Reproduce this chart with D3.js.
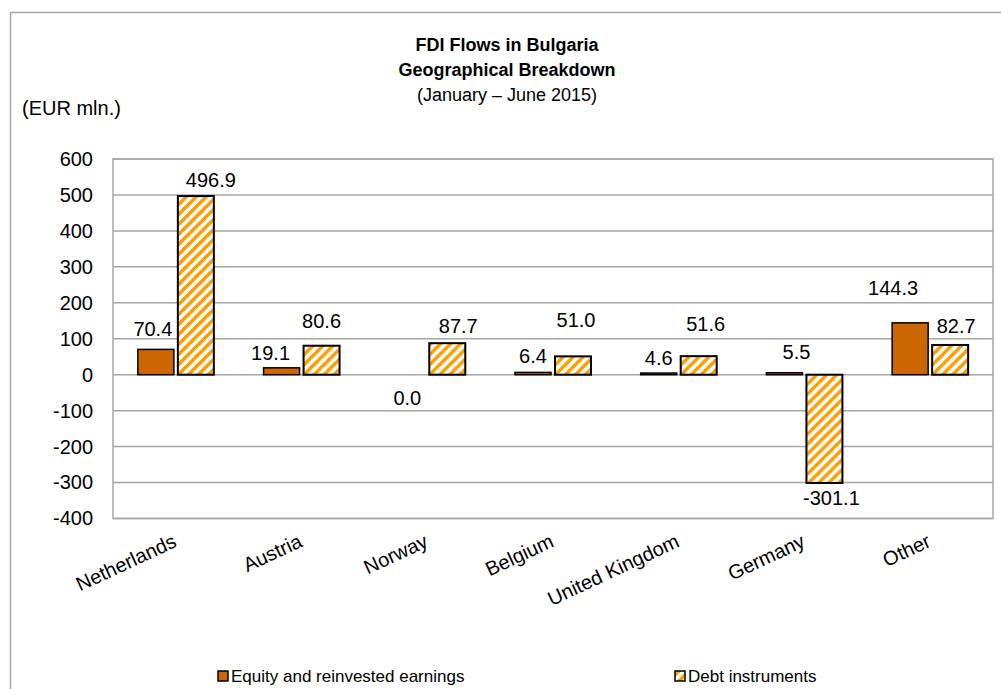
<!DOCTYPE html>
<html>
<head>
<meta charset="utf-8">
<script src="https://cdn.jsdelivr.net/npm/d3@7"></script>
<style>
  body { margin: 0; background: #fff; }
  text { font-family: Arial, "Liberation Sans", sans-serif; fill: #000; }
</style>
</head>
<body>
<div id="chart"></div>
<script>
'use strict';

// data
const categories = ["Netherlands", "Austria", "Norway", "Belgium", "United Kingdom", "Germany", "Other"];
const equity = [70.4, 19.1, 0.0, 6.4, 4.6, 5.5, 144.3];
const debt = [496.9, 80.6, 87.7, 51.0, 51.6, -301.1, 82.7];
const yTicks = [-400, -300, -200, -100, 0, 100, 200, 300, 400, 500, 600];
const seriesNames = ["Equity and reinvested earnings", "Debt instruments"];

let width = 1001, height = 689;
let margin = {top: 159, right: 8, bottom: 170.5, left: 113};

let svg = d3.select('#chart').append('svg')
    .attr('width', width)
    .attr('height', height);

// hatch for debt bars
let defs = svg.append('defs');
let pat = defs.append('pattern')
    .attr('id', 'hatch')
    .attr('patternUnits', 'userSpaceOnUse')
    .attr('width', 10)
    .attr('height', 10);
pat.append('rect').attr('width', 10).attr('height', 10).attr('fill', '#fff');
pat.append('path')
    .attr('d', 'M-3,3 L3,-3 M0,10 L10,0 M7,13 L13,7')
    .attr('stroke', '#ff9d00')
    .attr('stroke-width', 3.4);

// outer frame
svg.append('rect')
    .attr('x', 10.5).attr('y', 12.5)
    .attr('width', 1100).attr('height', 800)
    .attr('fill', 'none')
    .attr('stroke', '#a6a6a6')
    .attr('stroke-width', 1.5);

let x = d3.scaleBand()
    .domain(categories)
    .range([margin.left, width - margin.right]);

let inner = d3.scaleBand()
    .domain(['equity', 'debt'])
    .range([x.bandwidth() / 2 - 38, x.bandwidth() / 2 + 38])
    .paddingInner(0.1);

let y = d3.scaleLinear()
    .domain([-400, 600])
    .range([height - margin.bottom, margin.top]);

// gridlines
svg.append('g')
    .selectAll('line')
    .data(yTicks)
    .enter()
    .append('line')
    .attr('x1', margin.left).attr('x2', width - margin.right)
    .attr('y1', d => y(d)).attr('y2', d => y(d))
    .attr('stroke', '#a6a6a6')
    .attr('stroke-width', 1.5);

// plot border
svg.append('rect')
    .attr('x', margin.left).attr('y', y(600))
    .attr('width', width - margin.right - margin.left)
    .attr('height', y(-400) - y(600))
    .attr('fill', 'none')
    .attr('stroke', '#a6a6a6')
    .attr('stroke-width', 1.5);

// y axis labels (plain hyphen for negatives, as in the original)
let yAxis = svg.append('g')
    .attr('transform', 'translate(' + (margin.left - 20) + ',0)')
    .call(d3.axisLeft(y).tickValues(yTicks).tickSize(0).tickPadding(0).tickFormat(d => String(d)));
yAxis.select('.domain').remove();
yAxis.selectAll('text')
    .style('font-size', '20px')
    .attr('fill', '#000');

// x labels
svg.append('g')
    .selectAll('text')
    .data(categories)
    .enter()
    .append('text')
    .attr('text-anchor', 'end')
    .style('font-size', '20px')
    .attr('transform', d => 'translate(' + (x(d) + x.bandwidth() / 2 + 2) + ',' + 546 + ') rotate(-25)')
    .text(d => d);

let rows = categories.map((c, i) => ({cat: c, equity: equity[i], debt: debt[i]}));

// bars
let groups = svg.append('g')
    .selectAll('g')
    .data(rows)
    .enter()
    .append('g')
    .attr('transform', d => 'translate(' + x(d.cat) + ',0)');

groups.append('rect')
    .attr('x', inner('equity'))
    .attr('width', inner.bandwidth())
    .attr('y', d => y(Math.max(0, d.equity)))
    .attr('height', d => Math.abs(y(d.equity) - y(0)))
    .attr('fill', '#cc6600')
    .attr('stroke', '#000')
    .attr('stroke-width', 1.5);

groups.append('rect')
    .attr('x', inner('debt'))
    .attr('width', inner.bandwidth())
    .attr('y', d => y(Math.max(0, d.debt)))
    .attr('height', d => Math.abs(y(d.debt) - y(0)))
    .attr('fill', 'url(#hatch)')
    .attr('stroke', '#000')
    .attr('stroke-width', 2);

// data labels, nudged by hand like the original
let nudge = {
    equity: [[-3, -4], [-11, 1], [0, 39], [0, 0], [0, 1], [12, -5], [-17, -19]],
    debt: [[15, 0], [0, -9], [11, -1], [3, -20], [7, -16], [7, -1], [6, -3]]
};

['equity', 'debt'].forEach(key => {
    svg.append('g')
        .selectAll('text')
        .data(rows)
        .enter()
        .append('text')
        .attr('text-anchor', 'middle')
        .attr('dy', '0.35em')
        .style('font-size', '20px')
        .attr('x', (d, i) => x(d.cat) + inner(key) + inner.bandwidth() / 2 + nudge[key][i][0])
        .attr('y', (d, i) => (d[key] < 0 ? y(d[key]) + 16 : y(d[key]) - 16) + nudge[key][i][1])
        .text(d => d[key].toFixed(1));
});

// titles
let title = svg.append('g').attr('text-anchor', 'middle');
title.append('text').attr('x', 507).attr('y', 45).attr('dy', '0.35em')
    .style('font-size', '18px').style('font-weight', 'bold').text('FDI Flows in Bulgaria');
title.append('text').attr('x', 507).attr('y', 70).attr('dy', '0.35em')
    .style('font-size', '18px').style('font-weight', 'bold').text('Geographical Breakdown');
title.append('text').attr('x', 507).attr('y', 95).attr('dy', '0.35em')
    .style('font-size', '18px').text('(January \u2013 June 2015)');

svg.append('text').attr('x', 22).attr('y', 108).attr('dy', '0.35em')
    .style('font-size', '20px').text('(EUR mln.)');

// legend
let legend = svg.append('g');
let legendX = [218, 675];
seriesNames.forEach((name, i) => {
    legend.append('rect')
        .attr('x', legendX[i]).attr('y', 671)
        .attr('width', 10).attr('height', 10)
        .attr('fill', i === 0 ? '#cc6600' : 'url(#hatch)')
        .attr('stroke', '#000')
        .attr('stroke-width', 1.5);
    legend.append('text')
        .attr('x', legendX[i] + 13).attr('y', 676).attr('dy', '0.35em')
        .style('font-size', '17px')
        .text(name);
});
</script>
</body>
</html>
